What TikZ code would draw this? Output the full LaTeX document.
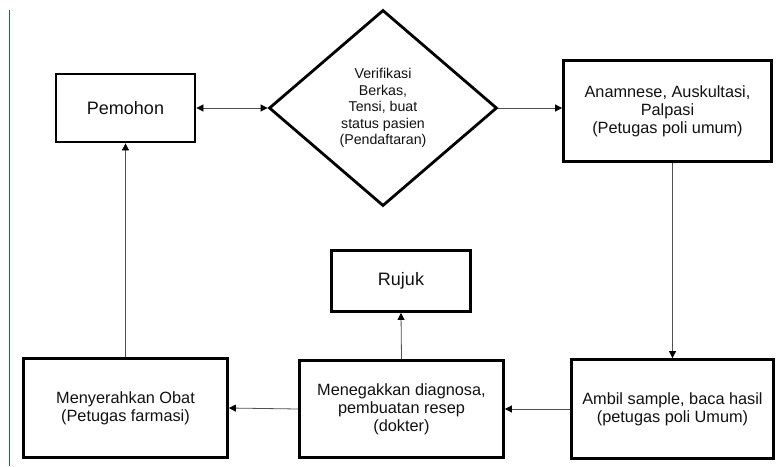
\documentclass[tikz,border=0pt]{standalone}
\usepackage{fontspec}
\setmainfont{Liberation Sans}
\usepackage{tikz}
\usetikzlibrary{shapes.geometric,arrows.meta}
\definecolor{linegray}{HTML}{505050}
\definecolor{margingreen}{HTML}{1F6B3F}
\definecolor{textgray}{HTML}{111111}
\tikzstyle{box} = [rectangle, draw, line width=2.8pt, text centered, align=center, text=textgray, font=\fontsize{16.3}{18}\selectfont]
\tikzstyle{decision} = [diamond, draw, line width=2.8pt, text centered, align=center, inner sep=0pt, text=textgray, font=\fontsize{14.2}{16.6}\selectfont]
\tikzstyle{connector} = [line width=0.8pt, draw=linegray, -{Triangle[length=7pt,width=7pt,color=black]}]

\begin{document}
\begin{tikzpicture}[x=1pt,y=-1pt]
    \useasboundingbox (0,0) rectangle (776,466);
    \draw[margingreen, line width=0.8pt] (9.5,10) -- (9.5,466);
    \node (pemohon) [box,minimum width=139pt,minimum height=68pt,font=\fontsize{18}{20}\selectfont] at (125.5,108) {Pemohon};
    \node (verifikasi) [decision,minimum width=228pt,minimum height=196pt] at (383,108) {Verifikasi\\Berkas,\\Tensi, buat\\status pasien\\(Pendaftaran)};
    \node (anamnese) [box,minimum width=208pt,minimum height=101pt] at (667.5,111) {Anamnese, Auskultasi,\\Palpasi\\(Petugas poli umum)};
    \node (ambil-sample) [box,minimum width=202pt,minimum height=99pt] at (672.5,409) {Ambil sample, baca hasil\\(petugas poli Umum)};
    \node (diagnosa) [box,minimum width=204pt,minimum height=97pt] at (401.5,409) {Menegakkan diagnosa,\\pembuatan resep\\(dokter)};
    \node (rujuk) [box,minimum width=139pt,minimum height=61pt,font=\fontsize{18}{20}\selectfont] at (401,281) {Rujuk};
    \node (obat) [box,minimum width=204pt,minimum height=99pt] at (125.5,408) {Menyerahkan Obat\\(Petugas farmasi)};
    \draw [connector, {Triangle[length=7pt,width=7pt,color=black]}-{Triangle[length=7pt,width=7pt,color=black]}] (pemohon.east) -- (verifikasi.west);
    \draw [connector] (verifikasi.east) -- (anamnese.west |- verifikasi.east);
    \draw [connector] (ambil-sample.north |- anamnese.south) -- (ambil-sample.north);
    \draw [connector] (ambil-sample.west) -- (diagnosa.east);
    \draw [connector] (diagnosa.north) -- (rujuk.south);
    \draw [connector] (diagnosa.west) -- (obat.east);
    \draw [connector] (obat.north) -- (pemohon.south);
\end{tikzpicture}
\end{document}
